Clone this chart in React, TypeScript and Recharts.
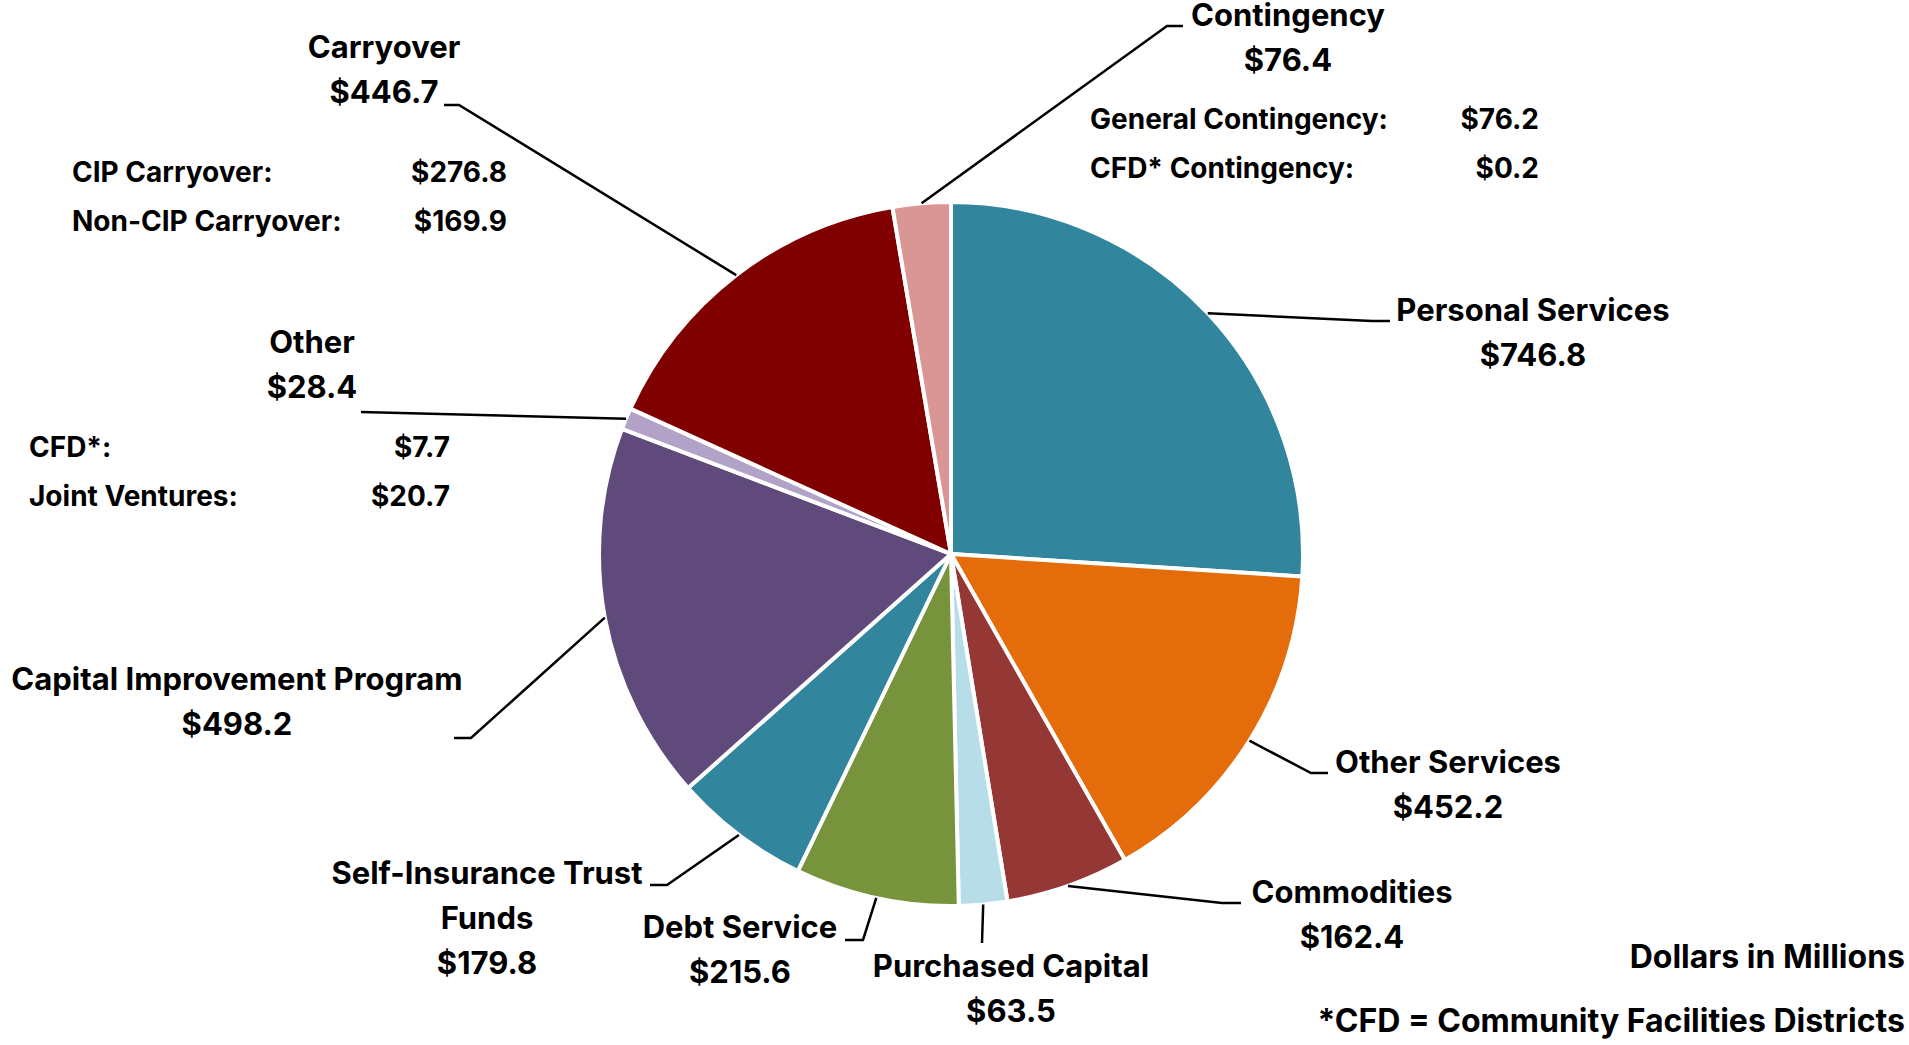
import React from 'react'
import { Cell, Pie, PieChart } from 'recharts'

const categories = [
  'Personal Services',
  'Other Services',
  'Commodities',
  'Purchased Capital',
  'Debt Service',
  'Self-Insurance Trust Funds',
  'Capital Improvement Program',
  'Other',
  'Carryover',
  'Contingency',
]
const values = [746.8, 452.2, 162.4, 63.5, 215.6, 179.8, 498.2, 28.4, 446.7, 76.4]
const colors = ['#31859C', '#E46C0A', '#953735', '#B7DEE8', '#77933C', '#31859C', '#604A7B', '#B3A2C7', '#800000', '#D99694']

// how each label is broken into lines
const labelLines = [
  ['Personal Services'],
  ['Other Services'],
  ['Commodities'],
  ['Purchased Capital'],
  ['Debt Service'],
  ['Self-Insurance Trust', 'Funds'],
  ['Capital Improvement Program'],
  ['Other'],
  ['Carryover'],
  ['Contingency'],
]

const otherParts = [
  { name: 'CFD*:', value: 7.7 },
  { name: 'Joint Ventures:', value: 20.7 },
]
const carryoverParts = [
  { name: 'CIP Carryover:', value: 276.8 },
  { name: 'Non-CIP Carryover:', value: 169.9 },
]
const contingencyParts = [
  { name: 'General Contingency:', value: 76.2 },
  { name: 'CFD* Contingency:', value: 0.2 },
]

const data = categories.map((name, i) => ({ name, value: values[i] }))

// label layout: leader elbow, leader end, text centre x, first baseline
const LAYOUT = [
  { ex: 1372, ey: 321, lx: 1390, ly: 321, tx: 1533, ty: 321 },
  { ex: 1311, ey: 773, lx: 1328, ly: 773, tx: 1448, ty: 773 },
  { ex: 1222, ey: 903, lx: 1241, ly: 903, tx: 1352, ty: 903 },
  { ex: 982, ey: 943, lx: 982, ly: 943, tx: 1011, ty: 977 },
  { ex: 863, ey: 940, lx: 845, ly: 940, tx: 740, ty: 938 },
  { ex: 667, ey: 885, lx: 650, ly: 885, tx: 487, ty: 884 },
  { ex: 471, ey: 738, lx: 454, ly: 738, tx: 237, ty: 690 },
  { ex: 361, ey: 412, lx: 361, ly: 412, tx: 312, ty: 353 },
  { ex: 459, ey: 105, lx: 444, ly: 105, tx: 384, ty: 58 },
  { ex: 1167, ey: 26, lx: 1183, ly: 26, tx: 1288, ty: 26 },
]

// breakdown tables: name x, value right edge x, first baseline
const PARTS_LAYOUT: Record<number, { nx: number; vx: number; y: number; parts: { name: string; value: number }[] }> = {
  7: { nx: 29, vx: 450, y: 457, parts: otherParts },
  8: { nx: 72, vx: 507, y: 182, parts: carryoverParts },
  9: { nx: 1090, vx: 1539, y: 129, parts: contingencyParts },
}

const FONT = "Inter, Roboto, 'Liberation Sans', Arial, sans-serif"
const RAD = Math.PI / 180
const money = (v: number) => `$${v.toFixed(1)}`

function renderLabel(props: any) {
  const { cx, cy, midAngle, outerRadius, index } = props
  const lay = LAYOUT[index]
  const sx = cx + outerRadius * Math.cos(-midAngle * RAD)
  const sy = cy + outerRadius * Math.sin(-midAngle * RAD)
  const lines = [...labelLines[index], money(values[index])]
  const block = PARTS_LAYOUT[index]
  return (
    <g key={`lbl-${index}`}>
      <polyline
        points={`${sx},${sy} ${lay.ex},${lay.ey} ${lay.lx},${lay.ly}`}
        fill="none"
        stroke="#000"
        strokeWidth={2.5}
      />
      <text x={lay.tx} y={lay.ty} textAnchor="middle" fontFamily={FONT} fontWeight={700} fontSize={31} fill="#000">
        {lines.map((t, i) => (
          <tspan key={i} x={lay.tx} dy={i === 0 ? 0 : 45}>
            {t}
          </tspan>
        ))}
      </text>
      {block &&
        block.parts.map((p, i) => (
          <g key={p.name}>
            <text x={block.nx} y={block.y + i * 49} fontFamily={FONT} fontWeight={700} fontSize={28} fill="#000">
              {p.name}
            </text>
            <text x={block.vx} y={block.y + i * 49} textAnchor="end" fontFamily={FONT} fontWeight={700} fontSize={28} fill="#000">
              {money(p.value)}
            </text>
          </g>
        ))}
    </g>
  )
}

export default function App() {
  return (
    <div style={{ position: 'absolute', left: 0, top: 0, width: 1909, height: 1045, background: '#fff' }}>
      <PieChart width={1909} height={1045} margin={{ top: 0, right: 0, bottom: 0, left: 0 }}>
        <Pie
          data={data}
          dataKey="value"
          nameKey="name"
          cx={951}
          cy={554}
          outerRadius={352}
          startAngle={90}
          endAngle={-270}
          stroke="#fff"
          strokeWidth={4}
          label={renderLabel}
          labelLine={false}
          isAnimationActive={false}
        >
          {data.map((_, i) => (
            <Cell key={i} fill={colors[i]} />
          ))}
        </Pie>
        <text x={1905} y={968} textAnchor="end" fontFamily={FONT} fontWeight={700} fontSize={32} fill="#000">
          Dollars in Millions
        </text>
        <text x={1905} y={1032} textAnchor="end" fontFamily={FONT} fontWeight={700} fontSize={32} fill="#000">
          *CFD = Community Facilities Districts
        </text>
      </PieChart>
    </div>
  )
}
